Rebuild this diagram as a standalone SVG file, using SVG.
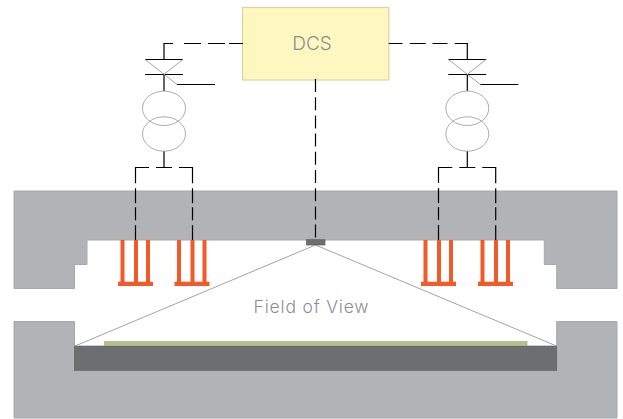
<svg xmlns="http://www.w3.org/2000/svg" width="623" height="419" viewBox="0 0 623 419">
<style>
text{font-family:"Inter","Liberation Sans",sans-serif;font-weight:300;fill:#8c8f92;text-anchor:middle}
.wall{fill:#b1b3b7;stroke:#a6a8ab;stroke-width:1}
.dark{fill:#6d6e70;stroke:#5f6062;stroke-width:.7}
.hv{fill:none;stroke:#000;stroke-width:1.2}
.dash{fill:none;stroke:#000;stroke-width:1.2}
.stem{stroke-dasharray:8 7 29.2 5 15 4 13 5 15}
.thin{fill:none;stroke:#999;stroke-width:.9}
.coil{fill:none;stroke:#a3a3a3;stroke-width:.9}
.or{fill:#f15a29}
</style>
<defs>
<g id="coilset">
<rect class="or" x="-15.5" y="0" width="4" height="42"/>
<rect class="or" x="-2" y="0" width="4" height="42"/>
<rect class="or" x="10" y="0" width="4" height="42"/>
<rect class="or" x="-18" y="41.7" width="35" height="4.3"/>
</g>
<g id="switchgear">
<path class="hv" d="M-19 59.5H19M-19 74.5H19M0 43.5V59.3M0 74.3V91M0 151V167.3"/>
<path class="thin" d="M-19 59.3L13 84.5M19 59.3L0 74.3"/>
<path class="hv" d="M13 84.5H51"/>
<ellipse class="coil" cx="0" cy="108.3" rx="21.5" ry="17.2"/>
<ellipse class="coil" cx="0" cy="134" rx="21.5" ry="17.2"/>
</g>
</defs>
<g id="wall-upper"><path class="wall" d="M14 191H617V288.5H556.7V264.5H544.3V240H87V264.5H74.5V288.5H14Z"/></g>
<g id="wall-lower"><path class="wall" d="M14 321.5H74.5V346H556.7V321.5H617V418H14Z"/></g>
<g id="substrate"><rect x="104.5" y="341.5" width="422.5" height="4.5" fill="#b5bf8f" stroke="#a8b282" stroke-width=".7"/></g>
<g id="stage"><rect class="dark" x="74.5" y="346.3" width="482.2" height="24"/></g>
<g id="field-of-view">
<path class="thin" d="M75 346L315.5 245L556.5 346"/>
<text x="311.5" y="313.3" font-size="17.5" letter-spacing=".8">Field of View</text>
</g>
<g id="sensor"><rect class="dark" x="306.3" y="239.7" width="18.7" height="5.3"/></g>
<g id="coils-1"><use href="#coilset" x="136" y="240"/></g>
<g id="coils-2"><use href="#coilset" x="192.5" y="240"/></g>
<g id="coils-3"><use href="#coilset" x="439" y="240"/></g>
<g id="coils-4"><use href="#coilset" x="496" y="240"/></g>
<g id="dcs">
<rect x="242.5" y="7.5" width="146.3" height="72.5" fill="#fef7bf" stroke="#d8d5a3" stroke-width="1.2"/>
<text x="312" y="50" font-size="19">DCS</text>
</g>
<g id="switchgear-left"><use href="#switchgear" x="164"/></g>
<g id="switchgear-right"><use href="#switchgear" x="467.3"/></g>
<g id="connectors">
<path class="dash" stroke-dasharray="14 4 17 7 17 11 10" d="M243 43.5H163.4"/>
<path class="dash" stroke-dasharray="13.7 7.3 16 6.7 15 7.3 13.3" d="M388.8 43.5H467.9"/>
<path class="dash" stroke-dasharray="13 5.2" d="M315.5 79V240"/>
<path class="dash stem" d="M164 167.5H135.5V240"/>
<path class="dash stem" d="M164 167.5H192.5V240"/>
<path class="dash stem" d="M467.3 167.5H438.5V240"/>
<path class="dash stem" d="M467.3 167.5H495.7V240"/>
</g>
</svg>
